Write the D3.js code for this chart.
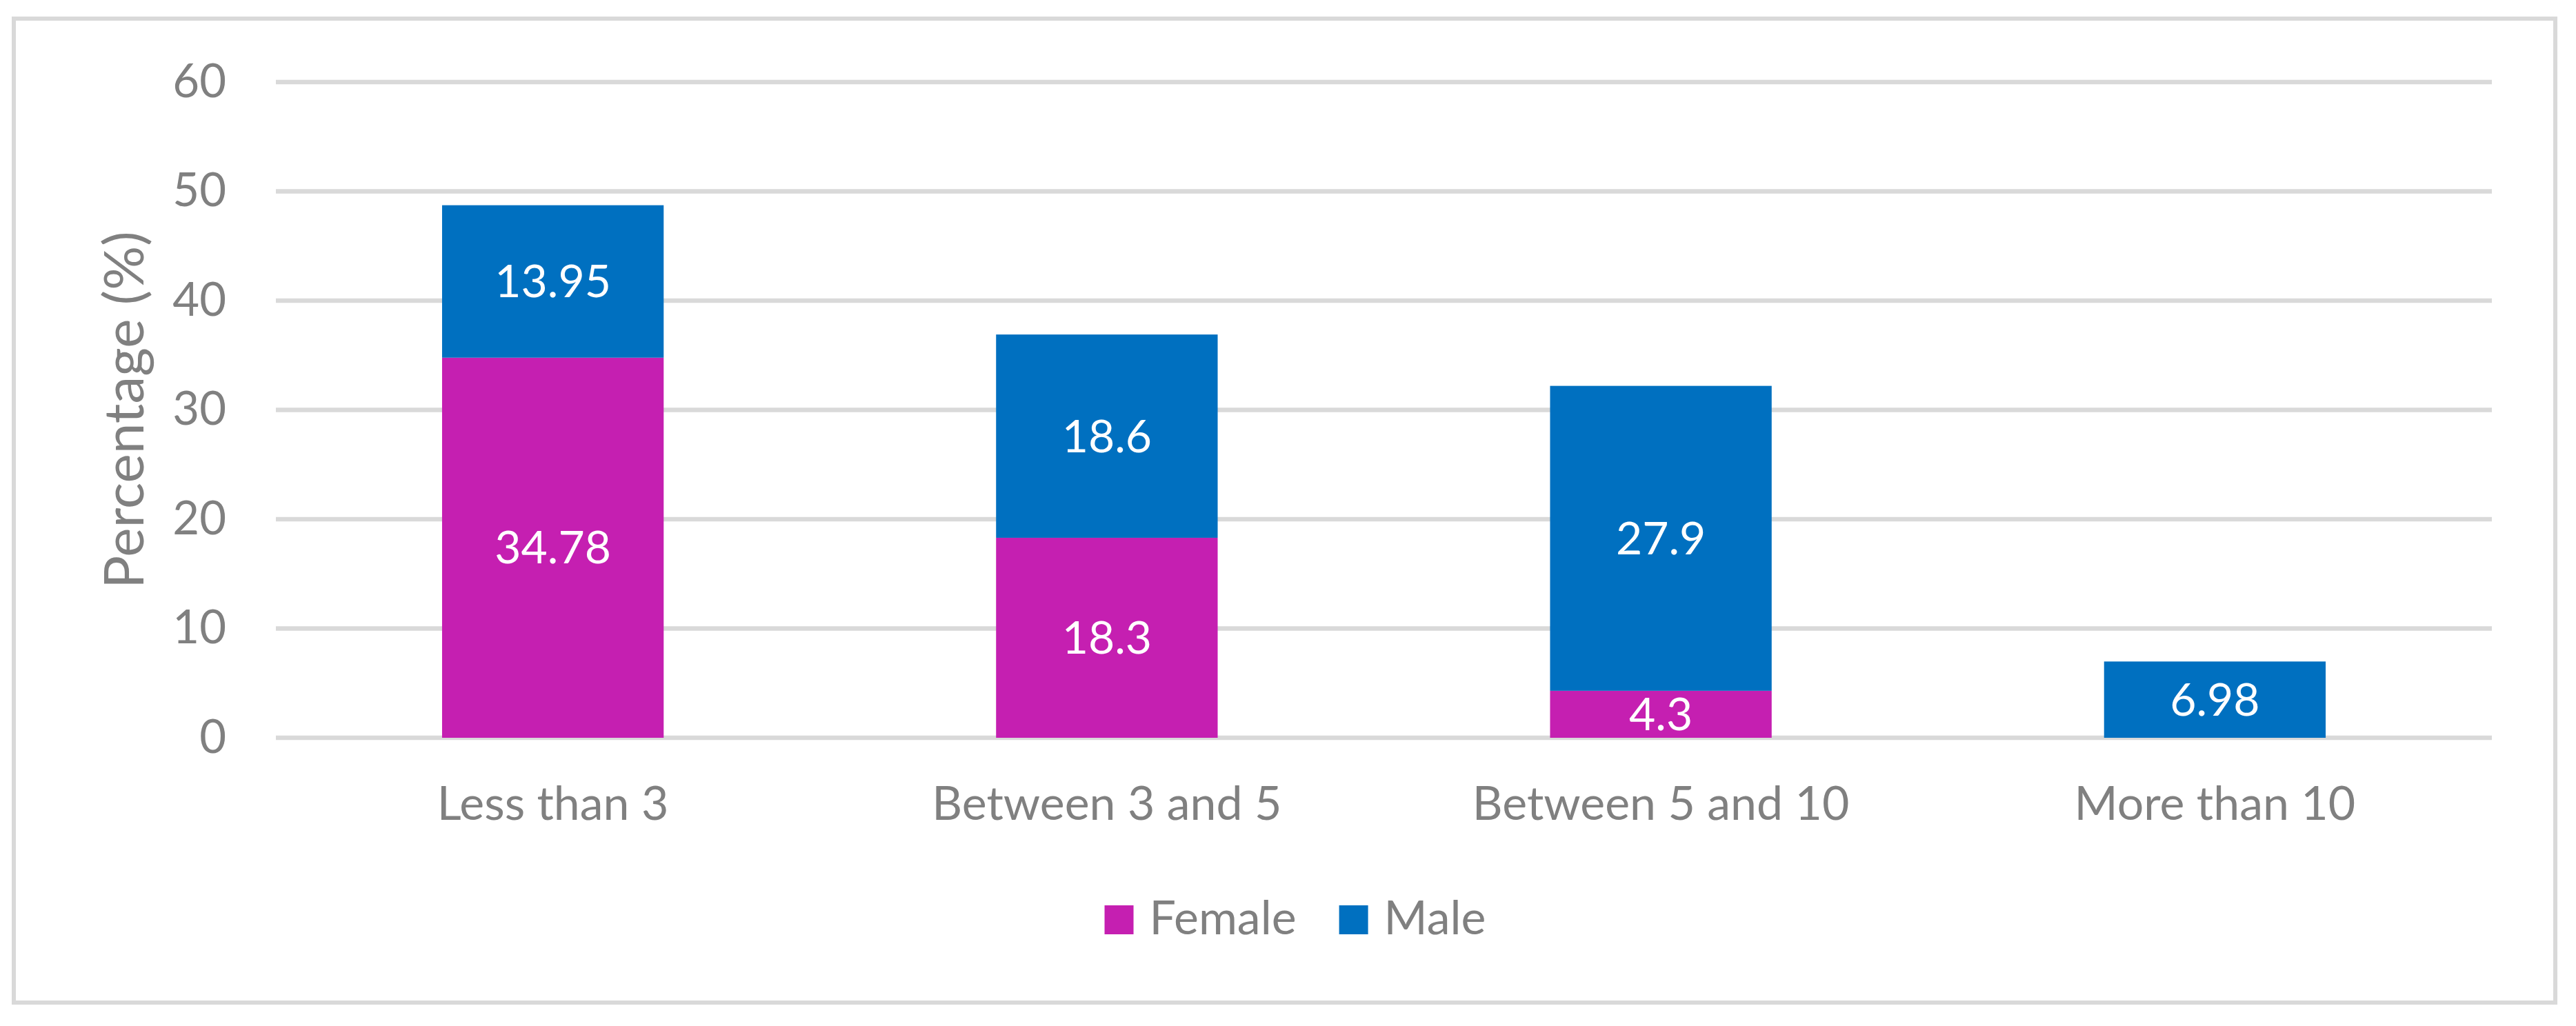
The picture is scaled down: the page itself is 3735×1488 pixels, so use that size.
<!DOCTYPE html>
<html>
<head>
<meta charset="utf-8">
<script src="https://cdn.jsdelivr.net/npm/d3@7"></script>
<style>
  body { margin: 0; background: #fff; }
  text { font-family: Lato, "Open Sans", sans-serif; }
</style>
</head>
<body>
<svg id="chart"></svg>
<script>
// data
const categories = ["Less than 3", "Between 3 and 5", "Between 5 and 10", "More than 10"];
const female = [34.78, 18.3, 4.3, 0];
const male = [13.95, 18.6, 27.9, 6.98];
const seriesNames = ["Female", "Male"];
const seriesColors = ["#c51fb1", "#0070c0"];
const yTicks = [0, 10, 20, 30, 40, 50, 60];

const W = 3735, H = 1488;
const plot = { left: 400, right: 3613, top: 119, bottom: 1070 };
const GRID = "#d9d9d9", TXT = "#808080";

const svg = d3.select("#chart").attr("width", W).attr("height", H);

svg.append("rect").attr("width", W).attr("height", H).attr("fill", "#fff");

// outer chart border
svg.append("rect")
  .attr("x", 20).attr("y", 27)
  .attr("width", 3705 - 20).attr("height", 1454 - 27)
  .attr("fill", "none")
  .attr("stroke", GRID)
  .attr("stroke-width", 6);

const x = d3.scaleBand()
  .domain(categories)
  .range([plot.left, plot.right])
  .paddingInner(0.6)
  .paddingOuter(0.3);

const y = d3.scaleLinear().domain([0, 60]).range([plot.bottom, plot.top]);

// gridlines
svg.append("g")
  .selectAll("line")
  .data(yTicks)
  .join("line")
  .attr("x1", plot.left).attr("x2", plot.right)
  .attr("y1", d => y(d)).attr("y2", d => y(d))
  .attr("stroke", GRID)
  .attr("stroke-width", 6.5);

// y axis labels
const yAxis = svg.append("g")
  .attr("transform", "translate(" + plot.left + ",0)")
  .call(d3.axisLeft(y).tickValues(yTicks).tickSize(0).tickPadding(72));
yAxis.select(".domain").remove();
yAxis.selectAll("text").attr("fill", TXT).style("font-size", "67px").style("font-family", "Lato");

// x axis labels
const xAxis = svg.append("g")
  .attr("transform", "translate(0," + plot.bottom + ")")
  .call(d3.axisBottom(x).tickSize(0).tickPadding(0));
xAxis.select(".domain").remove();
xAxis.selectAll("text")
  .attr("y", 1189 - plot.bottom).attr("dy", null)
  .attr("fill", TXT).style("font-size", "68px").style("font-family", "Lato");

// y axis title
svg.append("text")
  .attr("transform", "translate(208," + (plot.top + plot.bottom) / 2 + ") rotate(-90)")
  .attr("text-anchor", "middle")
  .attr("fill", TXT)
  .style("font-size", "80px")
  .text("Percentage (%)");

// stacked bars
const rows = categories.map((c, i) => ({ cat: c, Female: female[i], Male: male[i] }));
const stacked = d3.stack().keys(seriesNames)(rows);

const layers = svg.append("g")
  .selectAll("g")
  .data(stacked)
  .join("g")
  .attr("fill", (d, i) => seriesColors[i]);

const segs = layer => layer
  .map(s => ({ y0: s[0], y1: s[1], cat: s.data.cat, v: s.data[layer.key] }))
  .filter(s => s.v > 0);

layers.selectAll("rect")
  .data(segs)
  .join("rect")
  .attr("x", d => x(d.cat))
  .attr("width", x.bandwidth())
  .attr("y", d => y(d.y1))
  .attr("height", d => y(d.y0) - y(d.y1));

layers.selectAll("text")
  .data(segs)
  .join("text")
  .attr("x", d => x(d.cat) + x.bandwidth() / 2)
  .attr("y", d => y((d.y0 + d.y1) / 2))
  .attr("dy", "0.35em")
  .attr("text-anchor", "middle")
  .attr("fill", "#fff")
  .style("font-size", "66px")
  .text(d => d.v);

// legend
const legend = svg.append("g");
const items = legend.selectAll("g")
  .data(seriesNames)
  .join("g");
items.append("rect")
  .attr("width", 42).attr("height", 42)
  .attr("y", -42)
  .attr("fill", (d, i) => seriesColors[i]);
items.append("text")
  .attr("x", 65)
  .attr("fill", TXT)
  .style("font-size", "68px")
  .text(d => d);

let offset = 0;
items.each(function() {
  const g = d3.select(this);
  g.attr("transform", "translate(" + offset + ",0)");
  offset += 65 + g.select("text").node().getComputedTextLength() + 62;
});
const legendWidth = offset - 62;
legend.attr("transform", "translate(" + (1878 - legendWidth / 2) + ",1355)");
</script>
</body>
</html>
